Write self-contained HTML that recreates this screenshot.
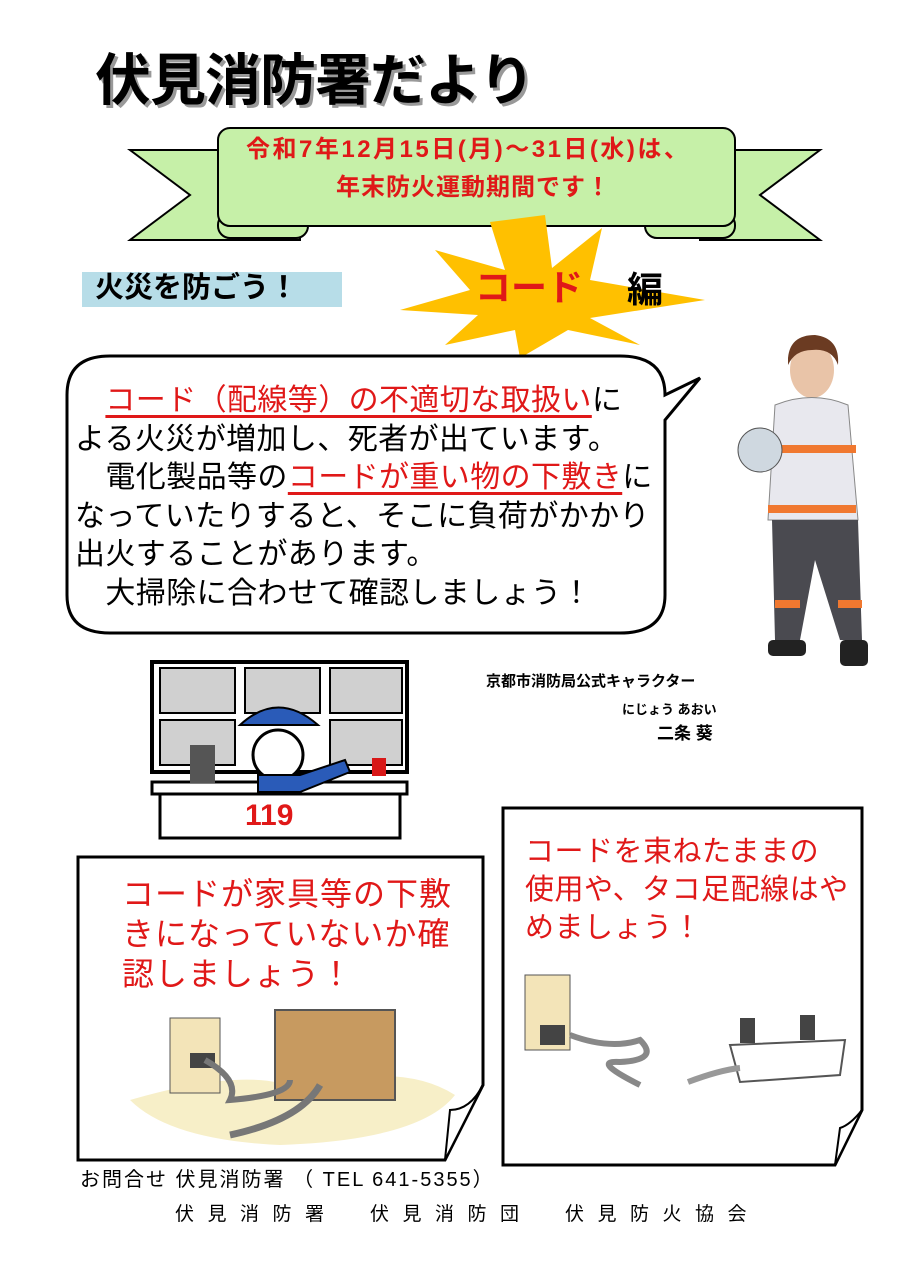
<!DOCTYPE html>
<html><head><meta charset="utf-8"><style>
body{margin:0;background:#fff}
#p{position:relative;width:900px;height:1277px;overflow:hidden;background:#fff;font-family:"Liberation Sans","Noto Sans CJK JP",sans-serif}
.t{position:absolute;white-space:nowrap;line-height:1}
.r{color:#e01818}
.u{color:#e01818;text-decoration:underline;text-decoration-thickness:3px;text-underline-offset:5px}
</style></head><body><div id="p">
<svg width="900" height="1277" style="position:absolute;left:0;top:0">
<polygon points="130,150 300,150 300,240 130,240 190,195" fill="#c6f0a8" stroke="#000" stroke-width="2"/>
<polygon points="820,150 700,150 700,240 820,240 760,195" fill="#c6f0a8" stroke="#000" stroke-width="2"/>
<rect x="218" y="213" width="90" height="25" rx="12" fill="#c6f0a8" stroke="#000" stroke-width="2"/>
<rect x="645" y="213" width="90" height="25" rx="12" fill="#c6f0a8" stroke="#000" stroke-width="2"/>
<rect x="218" y="128" width="517" height="98" rx="12" fill="#c6f0a8" stroke="#000" stroke-width="2"/>
<rect x="82" y="272" width="260" height="35" fill="#b7dde8"/>
<polygon points="545,215 552,268 602,228 590,280 705,300 590,318 640,345 568,330 520,358 515,330 445,345 478,315 400,310 470,290 435,250 505,270 490,222" fill="#ffc000"/>
<path d="M110,356 H620 Q665,356 665,395 L700,378 L665,420 V595 Q665,633 620,633 H110 Q67,633 67,595 V395 Q67,356 110,356 Z" fill="#fff" stroke="#000" stroke-width="3"/>
<g>
<ellipse cx="812" cy="370" rx="22" ry="28" fill="#e9c4a8"/>
<path d="M788,358 Q790,335 815,335 Q840,338 838,365 Q832,348 812,350 Q795,350 788,365Z" fill="#6b3b22"/>
<path d="M775,405 Q812,390 848,405 L858,520 L768,520 Z" fill="#e8e8ee" stroke="#888"/>
<rect x="768" y="445" width="88" height="8" fill="#f07830"/>
<rect x="768" y="505" width="88" height="8" fill="#f07830"/>
<circle cx="760" cy="450" r="22" fill="#cfd8e0" stroke="#555"/>
<path d="M772,520 L858,520 L862,640 L840,640 L815,560 L800,640 L775,640 Z" fill="#4a4a50"/>
<rect x="775" y="600" width="25" height="8" fill="#f07830"/>
<rect x="838" y="600" width="24" height="8" fill="#f07830"/>
<rect x="768" y="640" width="38" height="16" rx="5" fill="#222"/>
<rect x="840" y="640" width="28" height="26" rx="5" fill="#222"/>
</g>
<g stroke="#000" stroke-width="4">
<rect x="152" y="662" width="255" height="110" fill="#fff"/>
<rect x="160" y="668" width="75" height="45" fill="#d0d0d0" stroke-width="2"/>
<rect x="245" y="668" width="75" height="45" fill="#d0d0d0" stroke-width="2"/>
<rect x="330" y="668" width="72" height="45" fill="#d0d0d0" stroke-width="2"/>
<rect x="160" y="720" width="75" height="45" fill="#d0d0d0" stroke-width="2"/>
<rect x="330" y="720" width="72" height="45" fill="#d0d0d0" stroke-width="2"/>
<rect x="152" y="782" width="255" height="12" fill="#fff" stroke-width="3"/>
<rect x="160" y="794" width="240" height="44" fill="#fff" stroke-width="3"/>
</g>
<rect x="190" y="745" width="25" height="38" fill="#555"/>
<circle cx="278" cy="755" r="25" fill="#fff" stroke="#000" stroke-width="3"/>
<path d="M240,725 Q278,690 318,725 Z" fill="#2a5bb8" stroke="#000" stroke-width="2"/>
<path d="M258,775 L300,775 L345,760 L350,772 L300,792 L258,792Z" fill="#2a5bb8" stroke="#000" stroke-width="2"/>
<rect x="372" y="758" width="14" height="18" fill="#d81818"/>
<path d="M78,857 H483 V1085 L445,1160 H78 Z" fill="#fff" stroke="#000" stroke-width="3"/>
<path d="M483,1085 Q470,1110 450,1110 L445,1160 Z" fill="#fff" stroke="#000" stroke-width="2"/>
<path d="M503,808 H862 V1110 L835,1165 H503 Z" fill="#fff" stroke="#000" stroke-width="3"/>
<path d="M862,1110 Q850,1125 840,1128 L835,1165 Z" fill="#fff" stroke="#000" stroke-width="2"/>
<path d="M130,1100 Q250,1065 300,1090 Q400,1060 455,1095 Q420,1140 280,1145 Q170,1140 130,1100Z" fill="#f7efc8"/>
<rect x="170" y="1018" width="50" height="75" fill="#f3e4b8" stroke="#555"/>
<rect x="190" y="1053" width="25" height="15" fill="#444"/>
<rect x="275" y="1010" width="120" height="90" fill="#c79a60" stroke="#555" stroke-width="2"/>
<path d="M205,1060 Q240,1080 230,1100 Q290,1095 290,1080" fill="none" stroke="#777" stroke-width="6"/>
<path d="M230,1135 Q300,1120 320,1085" fill="none" stroke="#777" stroke-width="7"/>
<rect x="525" y="975" width="45" height="75" fill="#f3e4b8" stroke="#555"/>
<rect x="540" y="1025" width="25" height="20" fill="#444"/>
<path d="M570,1035 Q610,1050 640,1040 Q660,1060 620,1062 Q590,1060 640,1085" fill="none" stroke="#888" stroke-width="6"/>
<path d="M730,1045 L845,1040 L840,1075 L740,1082 Z" fill="#fff" stroke="#555" stroke-width="2"/>
<path d="M688,1082 Q720,1070 740,1068" stroke="#999" stroke-width="6" fill="none"/>
<rect x="740" y="1018" width="15" height="25" fill="#444"/>
<rect x="800" y="1015" width="15" height="25" fill="#444"/>
</svg>

<div class="t" style="left:95px;top:53px;font-size:56px;font-weight:bold;letter-spacing:-1px;text-shadow:3px 3px 0 #999">伏見消防署だより</div>
<div class="t r" style="left:246px;top:138px;font-size:24px;font-weight:bold;letter-spacing:2.5px">令和7年12月15日(月)～31日(水)は、</div>
<div class="t r" style="left:336px;top:176px;font-size:24px;font-weight:bold;letter-spacing:1px">年末防火運動期間です！</div>
<div class="t" style="left:95px;top:274px;font-size:29px;font-weight:bold">火災を防ごう！</div>
<div class="t r" style="left:475px;top:270px;font-size:36px;font-weight:bold">コード</div>
<div class="t" style="left:627px;top:272px;font-size:36px;font-weight:bold">編</div>

<div class="t" style="left:75px;top:382px;font-size:30px;line-height:38.5px;letter-spacing:0.4px">
　<span class="u">コード（配線等）の不適切な取扱い</span>に<br>よる火災が増加し、死者が出ています。<br>　電化製品等の<span class="u">コードが重い物の下敷き</span>に<br>なっていたりすると、そこに負荷がかかり<br>出火することがあります。<br>　大掃除に合わせて確認しましょう！</div>

<div class="t" style="left:486px;top:674px;font-size:15px;font-weight:bold">京都市消防局公式キャラクター</div>
<div class="t" style="left:622px;top:703px;font-size:13px;font-weight:bold">にじょう あおい</div>
<div class="t" style="left:657px;top:725px;font-size:17px;font-weight:bold">二条 葵</div>
<div class="t r" style="left:245px;top:801px;font-size:30px;font-weight:bold">119</div>

<div class="t r" style="left:122px;top:874px;font-size:32px;line-height:40px;letter-spacing:1px">コードが家具等の下敷<br>きになっていないか確<br>認しましょう！</div>
<div class="t r" style="left:525px;top:833px;font-size:29px;line-height:38px;letter-spacing:0.5px">コードを束ねたままの<br>使用や、タコ足配線はや<br>めましょう！</div>

<div class="t" style="left:80px;top:1170px;font-size:20px;letter-spacing:2px">お問合せ 伏見消防署 （ TEL 641-5355）</div>
<div class="t" style="left:175px;top:1205px;font-size:19px;letter-spacing:13.5px">伏見消防署　伏見消防団　伏見防火協会</div>
</div></body></html>
